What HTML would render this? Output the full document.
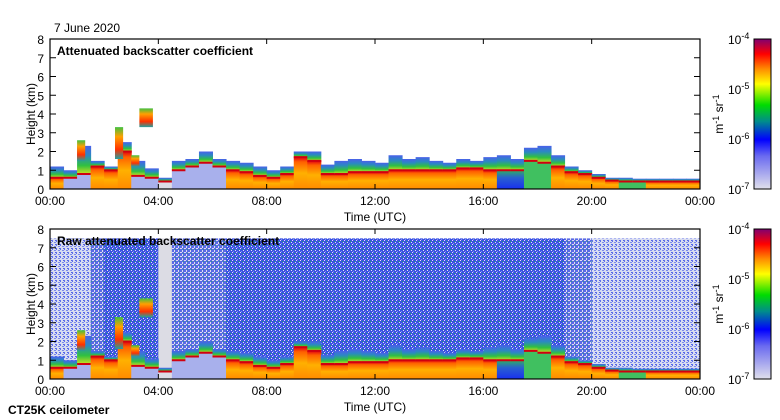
<!DOCTYPE html>
<html><head><meta charset="utf-8"><style>
body{margin:0;background:#fff;width:780px;height:420px;overflow:hidden;font-family:"Liberation Sans",sans-serif}
svg{display:block}
text{font-family:"Liberation Sans",sans-serif}
</style></head><body>
<svg id="chart" width="780" height="420" viewBox="0 0 780 420" xmlns="http://www.w3.org/2000/svg">
<defs>
<linearGradient id="cbar" x1="0" y1="1" x2="0" y2="0">
<stop offset="0" stop-color="#e0e0ec"/><stop offset="0.22" stop-color="#6a6af0"/><stop offset="0.33" stop-color="#0000ff"/><stop offset="0.45" stop-color="#008c8c"/><stop offset="0.56" stop-color="#00dc00"/><stop offset="0.7" stop-color="#ffff00"/><stop offset="0.8" stop-color="#ff8c00"/><stop offset="0.9" stop-color="#ff0000"/><stop offset="1" stop-color="#800070"/>
</linearGradient>
<linearGradient id="aer" x1="0" y1="1" x2="0" y2="0">
<stop offset="0" stop-color="#ff8a00"/><stop offset="0.5" stop-color="#ffb000"/><stop offset="0.85" stop-color="#ff6000"/><stop offset="1" stop-color="#e00010"/>
</linearGradient>
<linearGradient id="fr" x1="0" y1="1" x2="0" y2="0">
<stop offset="0" stop-color="#d0e020"/><stop offset="0.3" stop-color="#30c040"/><stop offset="0.65" stop-color="#2a8ac0"/><stop offset="1" stop-color="#4a60ea"/>
</linearGradient>
<linearGradient id="bluebase" x1="0" y1="1" x2="0" y2="0">
<stop offset="0" stop-color="#1830f0"/><stop offset="0.6" stop-color="#2a60d0"/><stop offset="1" stop-color="#30b060"/>
</linearGradient>
<linearGradient id="cloud" x1="0" y1="1" x2="0" y2="0">
<stop offset="0" stop-color="#20a0a0"/><stop offset="0.3" stop-color="#ff3000"/><stop offset="0.7" stop-color="#ffa000"/><stop offset="1" stop-color="#40c040"/>
</linearGradient>
<pattern id="noise3" width="4" height="4" patternUnits="userSpaceOnUse"><rect width="4" height="4" fill="#3a50e4"/><rect x="0" y="0" width="1" height="1" fill="#e4e4f0"/><rect x="2" y="1" width="1" height="1" fill="#20b060"/><rect x="1" y="3" width="1" height="1" fill="#8090f0"/><rect x="3" y="2" width="1" height="1" fill="#e4e4f0"/></pattern>
<pattern id="noise2" width="4" height="4" patternUnits="userSpaceOnUse"><rect width="4" height="4" fill="#5a6ae6"/><rect x="0" y="0" width="2" height="1" fill="#e0e0ee"/><rect x="2" y="2" width="1" height="2" fill="#e0e0ee"/><rect x="3" y="1" width="1" height="1" fill="#30a080"/></pattern>
<pattern id="noise1" width="4" height="4" patternUnits="userSpaceOnUse"><rect width="4" height="4" fill="#d8dcf0"/><rect x="0" y="0" width="1" height="2" fill="#6070ea"/><rect x="2" y="2" width="2" height="1" fill="#7a88ec"/><rect x="3" y="0" width="1" height="1" fill="#5060e8"/></pattern>
</defs>
<g id="p1"></g>
<g id="p2"></g>
<text x="54" y="32" font-size="12">7 June 2020</text>
<text x="8" y="414" font-size="12" font-weight="bold">CT25K ceilometer</text>
</svg>
<script>
// half-hour bins, 0..23.5 h
const binHours = [0,0.5,1,1.5,2,2.5,3,3.5,4,4.5,5,5.5,6,6.5,7,7.5,8,8.5,9,9.5,10,10.5,11,11.5,12,12.5,13,13.5,14,14.5,15,15.5,16,16.5,17,17.5,18,18.5,19,19.5,20,20.5,21,21.5,22,22.5,23,23.5];
const layerTop = [0.6,0.6,0.8,1.2,1.0,2.0,0.7,0.6,0.4,1.0,1.2,1.4,1.2,1.0,0.9,0.7,0.6,0.8,1.7,1.5,0.8,0.8,0.9,0.9,0.9,1.0,1.0,1.0,1.0,1.0,1.1,1.1,1.0,1.0,1.0,1.5,1.4,1.2,0.9,0.8,0.6,0.45,0.4,0.4,0.4,0.4,0.4,0.4];
const fringeTop = [1.2,1.0,2.3,1.5,1.2,2.5,1.5,1.1,0.6,1.5,1.6,2.0,1.6,1.5,1.4,1.2,1.0,1.2,2.0,2.0,1.3,1.5,1.6,1.5,1.4,1.8,1.6,1.7,1.5,1.4,1.6,1.5,1.7,1.8,1.6,2.2,2.3,1.8,1.2,1.0,0.8,0.6,0.6,0.55,0.55,0.55,0.55,0.55];
const baseType = ['o','l','l','o','o','o','l','l','x','l','l','l','l','o','o','o','o','o','o','o','o','o','o','o','o','o','o','o','o','o','o','o','o','b','b','g','g','o','o','o','o','o','g','g','o','o','o','o'];
const rawClass = [1,1,1,2,3,3,3,3,0,2,2,2,2,3,3,3,3,3,3,3,3,3,3,3,3,3,3,3,3,3,3,3,3,3,3,3,3,3,2,2,1,1,1,1,1,1,1,1];
// elevated features: start/end hour, base/top km
const featStart = [1.0,2.4,3.3,3.0];
const featEnd = [1.3,2.7,3.8,3.3];
const featBase = [1.5,1.6,3.3,1.2];
const featTop = [2.6,3.3,4.3,1.8];
const yTicks = [0,1,2,3,4,5,6,7,8];
const xTickLabels = ['00:00','04:00','08:00','12:00','16:00','20:00','00:00'];
const cbLabels = ['-4','-5','-6','-7'];

const NS='http://www.w3.org/2000/svg';
const X0=50,X1=700;
function xs(h){return X0+(X1-X0)*h/24;}
function mk(p,tag,attrs){const e=document.createElementNS(NS,tag);for(const k in attrs)e.setAttribute(k,attrs[k]);p.appendChild(e);return e;}
const baseCol={o:'url(#aer)',l:'#a8b0ec',x:'#dcdce4',b:'url(#bluebase)',g:'#40c060'};

function panel(g,top,title,raw){
  const bot=top+150;
  const ys=km=>bot-(bot-top)*km/8;
  if(raw){
    for(let i=0;i<binHours.length;i++){
      const r=mk(g,'rect',{x:xs(binHours[i]),y:ys(7.5),width:xs(0.5)-X0+0.5,height:ys(0)-ys(7.5),fill:rawClass[i]===0?'#dcdce4':'url(#noise'+rawClass[i]+')'});
      
      
    }
  }
  for(let i=0;i<binHours.length;i++){
    const x=xs(binHours[i]),w=xs(0.5)-X0+0.5;
    const f=mk(g,'rect',{x:x,y:ys(fringeTop[i]),width:w,height:ys(layerTop[i])-ys(fringeTop[i]),fill:'url(#fr)'});
    
    
    const a=mk(g,'rect',{x:x,y:ys(layerTop[i]),width:w,height:ys(0)-ys(layerTop[i]),fill:baseCol[baseType[i]]});
    
    
    const rl=mk(g,'rect',{x:x,y:ys(layerTop[i])-1,width:w,height:2,fill:'#d00010'});
    
    
  }
  for(let i=0;i<featStart.length;i++){
    const c=mk(g,'rect',{x:xs(featStart[i]),y:ys(featTop[i]),width:xs(featEnd[i])-xs(featStart[i]),height:ys(featBase[i])-ys(featTop[i]),fill:'url(#cloud)'});
    
    
  }
  const fr=mk(g,'rect',{x:X0,y:top,width:X1-X0,height:150,fill:'none',stroke:'#000','stroke-width':1.2});
  
  
  yTicks.forEach(v=>{
    const y=ys(v);
    mk(g,'line',{x1:X0,x2:X0+6,y1:y,y2:y,stroke:'#000'});
    mk(g,'line',{x1:X1,x2:X1-6,y1:y,y2:y,stroke:'#000'});
    const t=mk(g,'text',{x:44,y:y+5,'font-size':12,'text-anchor':'end'});
    t.textContent=v;
    
    
  });
  xTickLabels.forEach((s,i)=>{
    const x=xs(i*4);
    mk(g,'line',{x1:x,x2:x,y1:top,y2:top+5,stroke:'#000'});
    mk(g,'line',{x1:x,x2:x,y1:bot,y2:bot-5,stroke:'#000'});
    const t=mk(g,'text',{x:x,y:bot+16,'font-size':12,'text-anchor':'middle'});
    t.textContent=s;
    
    
  });
  const xt=mk(g,'text',{x:375,y:bot+32,'font-size':12,'text-anchor':'middle'});
  xt.textContent='Time (UTC)';
  
  
  const yt=mk(g,'text',{x:0,y:0,'font-size':12,'text-anchor':'middle',transform:`translate(35,${top+75}) rotate(-90)`});
  yt.textContent='Height (km)';
  
  
  const tt=mk(g,'text',{x:57,y:top+16,'font-size':12,'font-weight':'bold'});
  tt.textContent=title;
  
  
  const cb=mk(g,'rect',{x:754,y:top,width:17,height:150,fill:'url(#cbar)',stroke:'#000'});
  
  
  cbLabels.forEach((e,i)=>{
    const y=top+i*50;
    const t=mk(g,'text',{x:728,y:y+5,'font-size':12});
    t.textContent='10';
    const s=mk(t,'tspan',{dy:-5,'font-size':9});
    s.textContent=e;
    
    
  });
  const u=mk(g,'text',{x:0,y:0,'font-size':12,'text-anchor':'middle',transform:`translate(723,${top+75}) rotate(-90)`});
  u.innerHTML='m<tspan dy="-4" font-size="9">-1</tspan><tspan dy="4"> sr</tspan><tspan dy="-4" font-size="9">-1</tspan>';
  
  
}
panel(document.getElementById('p1'),39,'Attenuated backscatter coefficient',false);
panel(document.getElementById('p2'),229,'Raw attenuated backscatter coefficient',true);
</script>
</body></html>
